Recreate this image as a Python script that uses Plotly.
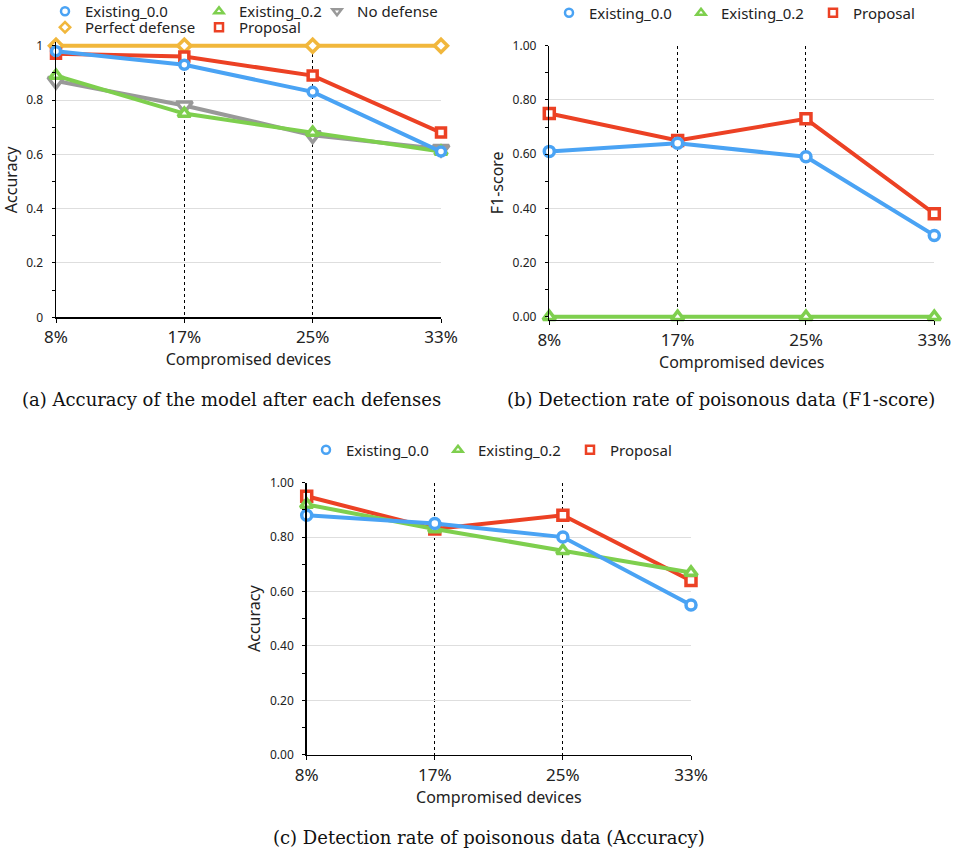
import plotly.graph_objects as go

W, H = 956, 850

categories = ["8%", "17%", "25%", "33%"]

# (a) Accuracy of the model after each defenses
a_existing_00 = [0.98, 0.93, 0.83, 0.61]
a_existing_02 = [0.89, 0.75, 0.68, 0.61]
a_no_defense = [0.87, 0.78, 0.67, 0.62]
a_perfect = [1.0, 1.0, 1.0, 1.0]
a_proposal = [0.97, 0.96, 0.89, 0.68]

# (b) Detection rate of poisonous data (F1-score)
b_existing_00 = [0.61, 0.64, 0.59, 0.30]
b_existing_02 = [0.0, 0.0, 0.0, 0.0]
b_proposal = [0.75, 0.65, 0.73, 0.38]

# (c) Detection rate of poisonous data (Accuracy)
c_existing_00 = [0.88, 0.85, 0.80, 0.55]
c_existing_02 = [0.92, 0.83, 0.75, 0.67]
c_proposal = [0.95, 0.83, 0.88, 0.64]

BLUE = "#4aa3f4"
GREEN = "#7ecf4e"
RED = "#ec4124"
YELLOW = "#f1b73c"
GRAY = "#999999"

SANS = "Noto Sans, Roboto, sans-serif"
SERIF = "DejaVu Serif, Liberation Serif, serif"

xs = list(range(len(categories)))


def px_x(p):
    return p / W


def px_y(p):
    return 1 - p / H


fig = go.Figure()


def line(x, y, color, symbol, size, xa, ya, lw=4, mlw=3.5):
    fig.add_trace(go.Scatter(
        x=x, y=y, mode="lines+markers", xaxis=xa, yaxis=ya,
        line=dict(color=color, width=lw),
        marker=dict(symbol=symbol, size=size, color="white",
                    line=dict(color=color, width=mlw)),
        cliponaxis=False, showlegend=False, hoverinfo="skip"))


def leg(name, color, symbol, legend, lw=None, size=8):
    fig.add_trace(go.Scatter(
        x=[None], y=[None], mode="markers", name=name, legend=legend,
        legendwidth=lw,
        marker=dict(symbol=symbol, size=size, color="white",
                    line=dict(color=color, width=2.5)),
        showlegend=True))


# panel (a) traces
line(xs, a_perfect, YELLOW, "diamond", 10, "x", "y")
line(xs, a_no_defense, GRAY, "triangle-down", 14, "x", "y")
line(xs, a_proposal, RED, "square", 9, "x", "y")
line(xs, a_existing_02, GREEN, "triangle-up", 11, "x", "y")
line(xs, a_existing_00, BLUE, "circle", 9, "x", "y")

# panel (b)
line(xs, b_proposal, RED, "square", 10, "x2", "y2")
line(xs, b_existing_02, GREEN, "triangle-up", 11, "x2", "y2")
line(xs, b_existing_00, BLUE, "circle", 10, "x2", "y2")

# panel (c)
line(xs, c_proposal, RED, "square", 10, "x3", "y3")
line(xs, c_existing_02, GREEN, "triangle-up", 11, "x3", "y3")
line(xs, c_existing_00, BLUE, "circle", 10, "x3", "y3")

# legends
leg("Existing_0.0", BLUE, "circle", "legend", 109)
leg("Existing_0.2", GREEN, "triangle-up", "legend", 73)
leg("No defense", GRAY, "triangle-down", "legend")
leg("Perfect defense", YELLOW, "diamond", "legend2", 109)
leg("Proposal", RED, "square", "legend2")

for lg in ("legend3", "legend4"):
    leg("Existing_0.0", BLUE, "circle", lg, 87)
    leg("Existing_0.2", GREEN, "triangle-up", lg, 87)
    leg("Proposal", RED, "square", lg)


def xaxis(dom, anchor):
    return dict(
        domain=dom, anchor=anchor, range=[0, 3], tickvals=xs, ticktext=categories,
        showline=True, linecolor="black", linewidth=1.5,
        ticks="outside", ticklen=4, tickcolor="black",
        showgrid=True, gridcolor="black", griddash="dot", gridwidth=1,
        zeroline=False, tickfont=dict(family=SANS, size=17, color="#222"),
        title=dict(text="Compromised devices", font=dict(family=SANS, size=16, color="#222"),
                   standoff=3),
        fixedrange=True)


def yaxis(dom, anchor, fmt, title, rng, standoff):
    return dict(
        domain=dom, anchor=anchor, range=rng, dtick=0.2, tick0=0, tickformat=fmt,
        showline=True, linecolor="black", linewidth=1.5,
        ticks="outside", ticklen=3, tickcolor="black",
        minor=dict(dtick=0.1, ticks="outside", ticklen=3, tickcolor="black", showgrid=False),
        showgrid=True, gridcolor="#dedede", gridwidth=1, zeroline=False,
        tickfont=dict(family=SANS, size=12, color="#222"),
        ticklabelstandoff=6,
        title=dict(text=title, font=dict(family=SANS, size=16, color="#222"),
                   standoff=standoff),
        fixedrange=True)


def yinside(over, dom, rng):
    # second copy of the y axis giving ticks that cross the axis line
    return dict(
        overlaying=over, anchor=over.replace("y", "x"), domain=dom, range=rng,
        dtick=0.2, tick0=0, showticklabels=False, showline=False, showgrid=False,
        zeroline=False, ticks="inside", ticklen=3, tickcolor="black",
        minor=dict(dtick=0.1, ticks="inside", ticklen=3, tickcolor="black", showgrid=False),
        fixedrange=True)


leg_font = dict(family=SANS, size=15, color="#222")


def legend_cfg(x_px, y_px):
    return dict(orientation="h", x=px_x(x_px), y=px_y(y_px), xanchor="left",
                yanchor="middle", font=leg_font, bgcolor="rgba(0,0,0,0)",
                borderwidth=0, itemclick=False, itemdoubleclick=False)


# a little head-room so lines at the range edges are not clipped
a_top, a_dom = 1.012, [px_y(317.3), px_y(45.7) + (0.012 * 271.6) / H]
b_bot, b_dom = -0.012, [px_y(316.7) - (0.012 * 271.0) / H, px_y(45.7)]
c_rng, c_dom = [0, 1], [px_y(754.7), px_y(482.7)]

fig.update_layout(
    width=W, height=H,
    margin=dict(l=0, r=0, t=0, b=0, autoexpand=False),
    paper_bgcolor="white", plot_bgcolor="white",
    xaxis=xaxis([px_x(56), px_x(441)], "y"),
    yaxis=yaxis(a_dom, "x", None, "Accuracy", [0, a_top], 9),
    xaxis2=xaxis([px_x(549.3), px_x(934.3)], "y2"),
    yaxis2=yaxis(b_dom, "x2", ".2f", "F1-score", [b_bot, 1], 5),
    xaxis3=xaxis([px_x(306.7), px_x(691)], "y3"),
    yaxis3=yaxis(c_dom, "x3", ".2f", "Accuracy", c_rng, 5),
    yaxis4=yinside("y", a_dom, [0, a_top]),
    yaxis5=yinside("y2", b_dom, [b_bot, 1]),
    yaxis6=yinside("y3", c_dom, c_rng),
    legend=legend_cfg(45, 11.5),
    legend2=legend_cfg(45, 27.5),
    legend3=legend_cfg(549, 13),
    legend4=legend_cfg(306, 450),
    annotations=[
        dict(text="(a) Accuracy of the model after each defenses", x=px_x(231), y=px_y(399),
             xref="paper", yref="paper", showarrow=False, xanchor="center", yanchor="middle",
             font=dict(family=SERIF, size=18, color="#111")),
        dict(text="(b) Detection rate of poisonous data (F1-score)", x=px_x(721), y=px_y(399),
             xref="paper", yref="paper", showarrow=False, xanchor="center", yanchor="middle",
             font=dict(family=SERIF, size=18, color="#111")),
        dict(text="(c) Detection rate of poisonous data (Accuracy)", x=px_x(489), y=px_y(837),
             xref="paper", yref="paper", showarrow=False, xanchor="center", yanchor="middle",
             font=dict(family=SERIF, size=18, color="#111")),
    ],
)

fig.write_html("out.html", config={"displayModeBar": False, "staticPlot": True},
               post_script="document.body.style.margin='0px';")
